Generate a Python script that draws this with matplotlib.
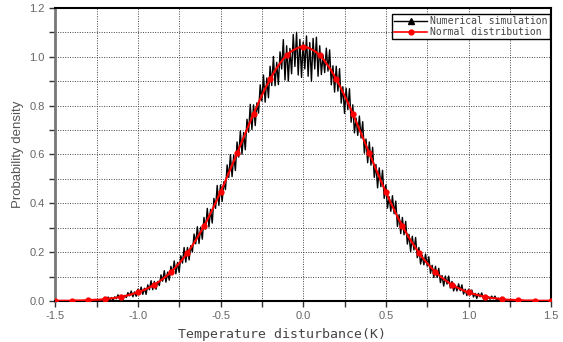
import numpy as np
import matplotlib
matplotlib.use('Agg')
import matplotlib.pyplot as plt
from matplotlib.ticker import MultipleLocator
from matplotlib.lines import Line2D

plt.rcParams['font.family'] = ['Liberation Sans', 'DejaVu Sans']

## data
# numerical simulation, x = -1.20 ... 1.20 step 0.01
sim_x = np.linspace(-1.2, 1.2, 241)
sim_left = [  # -1.20 ... 0.00
    0.014, 0.004, 0.016, 0.004, 0.014, 0.003, 0.017, 0.009, 0.025, 0.008,
    0.023, 0.007, 0.023, 0.014, 0.034, 0.021, 0.041, 0.017, 0.037, 0.019,
    0.048, 0.029, 0.057, 0.027, 0.052, 0.027, 0.066, 0.046, 0.083, 0.046,
    0.080, 0.048, 0.080, 0.063, 0.107, 0.081, 0.124, 0.077, 0.118, 0.085,
    0.142, 0.108, 0.164, 0.111, 0.158, 0.117, 0.185, 0.155, 0.219, 0.159,
    0.219, 0.168, 0.226, 0.201, 0.274, 0.234, 0.304, 0.235, 0.302, 0.253,
    0.342, 0.294, 0.379, 0.303, 0.375, 0.319, 0.420, 0.379, 0.473, 0.391,
    0.475, 0.408, 0.488, 0.456, 0.557, 0.506, 0.599, 0.509, 0.597, 0.534,
    0.651, 0.589, 0.696, 0.601, 0.690, 0.619, 0.744, 0.691, 0.805, 0.702,
    0.803, 0.718, 0.811, 0.769, 0.885, 0.819, 0.925, 0.814, 0.913, 0.832,
    0.961, 0.882, 1.001, 0.881, 0.977, 0.886, 1.020, 0.950, 1.070, 0.905,
    1.045, 0.900, 1.034, 0.930, 1.091, 0.960, 1.100, 0.925, 1.071, 0.915,
    1.060]
sim_right = [  # 0.01 ... 1.20
    0.950, 1.085, 0.920, 1.058, 0.900, 1.075, 0.950, 1.080, 0.920, 1.045,
    0.927, 1.007, 0.935, 1.035, 0.941, 1.028, 0.885, 0.963, 0.855, 0.961,
    0.859, 0.951, 0.810, 0.877, 0.768, 0.871, 0.783, 0.869, 0.732, 0.803,
    0.688, 0.749, 0.678, 0.757, 0.667, 0.734, 0.605, 0.663, 0.566, 0.651,
    0.556, 0.629, 0.506, 0.559, 0.463, 0.545, 0.468, 0.535, 0.420, 0.475,
    0.380, 0.427, 0.367, 0.431, 0.357, 0.409, 0.305, 0.353, 0.276, 0.342,
    0.271, 0.326, 0.233, 0.273, 0.202, 0.265, 0.209, 0.260, 0.177, 0.219,
    0.151, 0.187, 0.148, 0.192, 0.143, 0.181, 0.113, 0.146, 0.096, 0.142,
    0.096, 0.134, 0.075, 0.104, 0.061, 0.102, 0.069, 0.102, 0.053, 0.080,
    0.041, 0.064, 0.041, 0.070, 0.042, 0.066, 0.028, 0.048, 0.022, 0.048,
    0.025, 0.045, 0.016, 0.031, 0.010, 0.031, 0.017, 0.033, 0.010, 0.023,
    0.006, 0.017, 0.007, 0.020, 0.009, 0.020, 0.003, 0.012, 0.001, 0.014]
sim_y = sim_left + sim_right

# normal distribution, x = 0 ... 1.50 step 0.02 (symmetric)
norm_half = [1.040, 1.039, 1.034, 1.027, 1.018, 1.005, 0.991, 0.973, 0.954, 0.932,
             0.908, 0.883, 0.855, 0.827, 0.797, 0.767, 0.735, 0.703, 0.670, 0.637,
             0.605, 0.572, 0.540, 0.508, 0.476, 0.446, 0.416, 0.387, 0.359, 0.332,
             0.307, 0.283, 0.259, 0.238, 0.217, 0.198, 0.179, 0.162, 0.147, 0.132,
             0.119, 0.106, 0.095, 0.085, 0.075, 0.067, 0.059, 0.052, 0.046, 0.040,
             0.035, 0.031, 0.027, 0.023, 0.020, 0.017, 0.015, 0.012, 0.011, 0.009,
             0.008, 0.006, 0.005, 0.005, 0.004, 0.003, 0.003, 0.002, 0.002, 0.002,
             0.001, 0.001, 0.001, 0.001, 0.001, 0.000]
norm_x = np.linspace(-1.5, 1.5, 151)
norm_y = norm_half[::-1] + norm_half[1:]

xticks = [-1.5, -1.0, -0.5, 0.0, 0.5, 1.0, 1.5]
yticks = [0.0, 0.2, 0.4, 0.6, 0.8, 1.0, 1.2]

fig = plt.figure(figsize=(5.63, 3.42), dpi=100)
ax = fig.add_axes([0.098, 0.120, 0.881, 0.857])

ax.plot(sim_x, sim_y, color='black', lw=1.0, zorder=3)
ax.plot(norm_x, norm_y, color='red', lw=1.5, marker='o', ms=3.5,
        markevery=5, zorder=4)

ax.set_xlim(-1.5, 1.5)
ax.set_ylim(0, 1.2)
ax.set_xticks(xticks)
ax.set_yticks(yticks)
ax.set_xticklabels(['%.1f' % v for v in xticks])
ax.set_yticklabels(['%.1f' % v for v in yticks])
ax.xaxis.set_minor_locator(MultipleLocator(0.25))
ax.yaxis.set_minor_locator(MultipleLocator(0.1))
ax.tick_params(which='both', direction='out', length=4, width=1,
               colors='#333333', labelcolor='#666666', labelsize=8,
               top=False, right=False)
ax.grid(which='both', color='#444444', linestyle=(0, (1, 1.5)), lw=0.7)

for s in ['top', 'right', 'bottom']:
    ax.spines[s].set_linewidth(1.5)
    ax.spines[s].set_color('black')
ax.spines['left'].set_linewidth(2)
ax.spines['left'].set_color('#777777')

ax.set_ylabel('Probability density', fontsize=9.5, color='#555555', labelpad=4)
fig.text(282 / 563, 0.002, 'Temperature disturbance(K)', fontsize=9.5,
         family='DejaVu Sans Mono', color='#444444', ha='center', va='bottom')

# legend handles: black line with triangle, red line with dot
h1 = Line2D([], [], color='black', lw=1.0, marker='^', ms=4)
h2 = Line2D([], [], color='red', lw=1.2, marker='o', ms=3.5)
leg = ax.legend([h1, h2], ['Numerical simulation', 'Normal distribution'],
                loc='upper right', bbox_to_anchor=(0.997, 0.978),
                prop={'family': 'DejaVu Sans Mono', 'size': 7},
                handlelength=3.4, handletextpad=0.3, borderpad=0.2,
                labelspacing=0.1, fancybox=False, framealpha=1,
                edgecolor='black', borderaxespad=0)
leg.get_frame().set_linewidth(1.0)
for t in leg.get_texts():
    t.set_color('#444444')

fig.savefig('out.png', dpi=100)
